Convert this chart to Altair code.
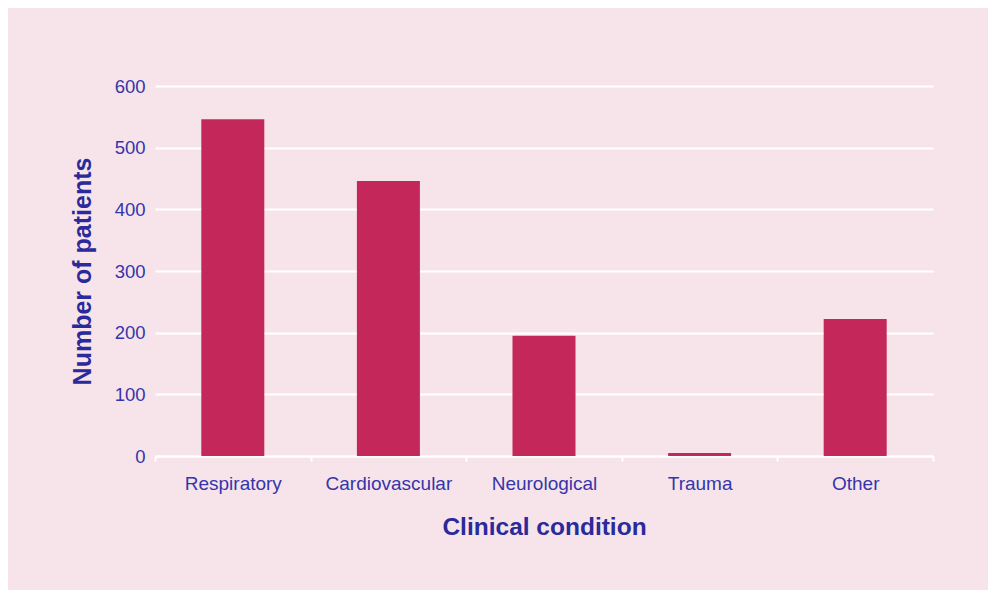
import altair as alt
import pandas as pd

categories = ["Respiratory", "Cardiovascular", "Neurological", "Trauma", "Other"]
patients = [546, 446, 195, 5, 222]

df = pd.DataFrame({"condition": categories, "patients": patients})

label_color = "#3535aa"
title_color = "#2a2a9a"
bg = "#f7e4ea"

chart = (
    alt.Chart(df)
    .mark_bar(color="#c4285a", width=alt.RelativeBandSize(0.405))
    .encode(
        x=alt.X(
            "condition:N",
            sort=categories,
            scale=alt.Scale(paddingInner=0, paddingOuter=0),
            axis=alt.Axis(
                title="Clinical condition",
                labelAngle=0,
                tickBand="extent",
                domainColor="white",
                domainWidth=2,
                tickColor="white",
                tickWidth=2,
                tickSize=5,
                labelPadding=13,
                labelFont="Liberation Sans",
                labelFontSize=19,
                labelColor=label_color,
                titleFont="Liberation Sans",
                titleFontSize=24.5,
                titleFontWeight="bold",
                titleColor=title_color,
                titlePadding=22,
                grid=False,
            ),
        ),
        y=alt.Y(
            "patients:Q",
            scale=alt.Scale(domain=[0, 600]),
            axis=alt.Axis(
                title="Number of patients",
                values=[0, 100, 200, 300, 400, 500, 600],
                domain=False,
                ticks=False,
                labelPadding=10,
                labelFont="Liberation Sans",
                labelFontSize=18.5,
                labelColor=label_color,
                titleFont="Liberation Sans",
                titleFontSize=25,
                titleFontWeight="bold",
                titleColor=title_color,
                titlePadding=19,
                gridColor="white",
                gridWidth=2,
            ),
        ),
    )
    .properties(
        width=778,
        height=370,
        background=bg,
        padding={"left": 147, "top": 78, "right": 55, "bottom": 134},
        autosize=alt.AutoSizeParams(type="none"),
    )
    .configure_view(stroke=None, fill=bg)
)

chart.save("out.html", embed_options={"renderer": "svg", "actions": False})
